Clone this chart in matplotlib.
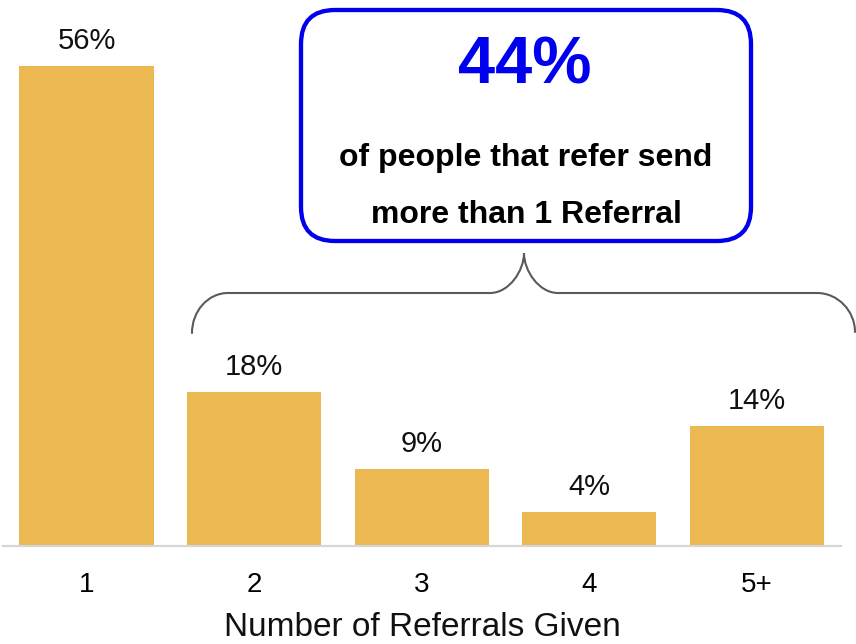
import matplotlib
matplotlib.use("Agg")
from matplotlib import pyplot as plt
from matplotlib.patches import FancyBboxPatch, PathPatch
from matplotlib.path import Path

plt.rcParams["font.family"] = ["Liberation Sans", "DejaVu Sans"]

categories = ["1", "2", "3", "4", "5+"]
shares = [56, 18, 9, 4, 14]
bar_labels = ["56%", "18%", "9%", "4%", "14%"]
callout_value = "44%"
callout_lines = ["of people that refer send", "more than 1 Referral"]
x_title = "Number of Referrals Given"

BAR_COLOR = "#ECB852"
W, H = 856, 644

fig = plt.figure(figsize=(W / 100, H / 100), dpi=100)

# bar chart area: baseline at y=546px, 480px for 56%
ax = fig.add_axes([2.7 / W, 98 / H, 838 / W, 546 / H])
xs = list(range(len(categories)))
bars = ax.bar(xs, shares, width=0.8, color=BAR_COLOR, zorder=2)
ax.set_xlim(-0.5, 4.5)
ax.set_ylim(0, 546 / (480 / 56))
ax.set_xticks(xs)
ax.set_xticklabels(categories, fontsize=20)
ax.tick_params(axis="x", length=0, pad=19)
ax.set_yticks([])
for side in ["top", "right", "left"]:
    ax.spines[side].set_visible(False)
ax.spines["bottom"].set_color("#d6d6d6")
ax.spines["bottom"].set_linewidth(1.6)

for rect, lab in zip(bars, bar_labels):
    ax.annotate(lab, (rect.get_x() + rect.get_width() / 2, rect.get_height()),
                xytext=(0, 12.2), textcoords="offset points",
                ha="center", va="baseline", fontsize=21, color="#111111")

fig.text(422 / W, 1 - 628 / H, x_title, ha="center", va="center",
         fontsize=24, color="#111111")

# overlay in pixel coordinates for the brace and callout
ov = fig.add_axes([0, 0, 1, 1], zorder=5)
ov.set_xlim(0, W)
ov.set_ylim(H, 0)
ov.axis("off")
ov.patch.set_alpha(0)

verts = [
    (192, 333), (192, 311), (208, 293), (228, 293),
    (490, 293),
    (509, 293), (524, 271), (524, 253),
    (524, 271), (539, 293), (558, 293),
    (817, 293),
    (838, 293), (855, 311), (855, 332),
]
codes = [Path.MOVETO, Path.CURVE4, Path.CURVE4, Path.CURVE4,
         Path.LINETO,
         Path.CURVE4, Path.CURVE4, Path.CURVE4,
         Path.CURVE4, Path.CURVE4, Path.CURVE4,
         Path.LINETO,
         Path.CURVE4, Path.CURVE4, Path.CURVE4]
ov.add_patch(PathPatch(Path(verts, codes), facecolor="none",
                       edgecolor="#5a5a5a", lw=1.5, capstyle="round"))

box = FancyBboxPatch((301, 10), 450, 231,
                     boxstyle="round,pad=0,rounding_size=34",
                     facecolor="white", edgecolor="#0000ee", lw=3.1)
ov.add_patch(box)

ov.text(525, 83, callout_value, ha="center", va="baseline",
        fontsize=48, fontweight="bold", color="#0000ee")
ov.text(526, 166, callout_lines[0], ha="center", va="baseline",
        fontsize=23, fontweight="bold", color="black")
ov.text(526, 223, callout_lines[1], ha="center", va="baseline",
        fontsize=23, fontweight="bold", color="black")

fig.savefig("out.png", dpi=100)
